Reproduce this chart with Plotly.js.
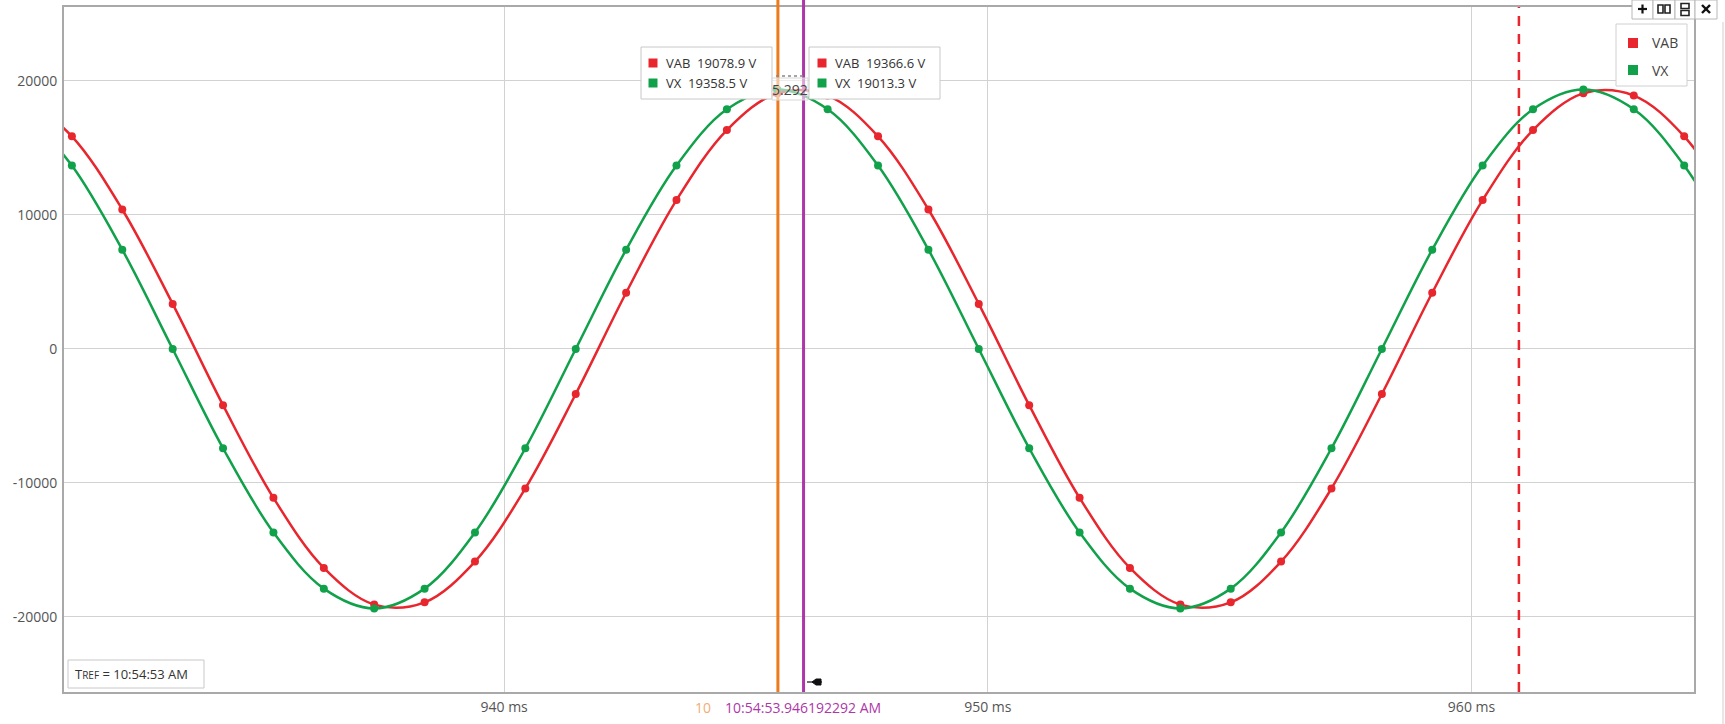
<!DOCTYPE html>
<html>
<head>
<meta charset="utf-8">
<script src="https://cdn.plot.ly/plotly-3.0.1.min.js"></script>
<style>html,body{margin:0;padding:0;background:#fff;}#chart{width:1725px;height:724px;}</style>
</head>
<body>
<div id="chart"></div>
<script>
// ---- data ----
const time_ms = [930.022, 931.063, 932.105, 933.147, 934.188, 935.230, 936.272, 937.313, 938.355, 939.397,
  940.438, 941.480, 942.522, 943.563, 944.605, 945.647, 946.688, 947.730, 948.772, 949.813,
  950.855, 951.897, 952.938, 953.980, 955.022, 956.063, 957.105, 958.147, 959.188, 960.230,
  961.272, 962.313, 963.355, 964.397, 965.438];
const vab = [18911, 15867, 10408, 3364, -4192, -11110, -16337, -19076, -18911, -15867,
  -10408, -3364, 4192, 11110, 16337, 19076, 18911, 15867, 10408, 3364,
  -4192, -11110, -16337, -19076, -18911, -15867, -10408, -3364, 4192, 11110,
  16337, 19076, 18911, 15867, 10408];
const vx = [17886, 13690, 7409, 0, -7409, -13690, -17886, -19360, -17886, -13690,
  -7409, 0, 7409, 13690, 17886, 19360, 17886, 13690, 7409, 0,
  -7409, -13690, -17886, -19360, -17886, -13690, -7409, 0, 7409, 13690,
  17886, 19360, 17886, 13690, 7409];
const seriesNames = ['VAB', 'VX'];
const xTickVals = [940, 950, 960];
const xTickText = ['940 ms', '950 ms', '960 ms'];
const yTickVals = [-20000, -10000, 0, 10000, 20000];
const yTickText = ['-20000', '-10000', '0', '10000', '20000'];
const cursorA_ms = 945.66;
const cursorB_ms = 946.19;
const refLine_ms = 960.98;
const cursorA_vals = ['19078.9', '19358.5'];
const cursorB_vals = ['19366.6', '19013.3'];
const deltaLabel = '5.292';
const cursorA_timeVisible = '10';
const cursorB_time = '10:54:53.946192292 AM';
const trefLabel = '10:54:53 AM';

// ---- layout helpers (pixel -> paper) ----
const L = 64, R = 1694, T = 7, B = 692;
const px = x => (x - L) / (R - L);
const py = y => (B - y) / (B - T);
const RED = '#E8262E', GREEN = '#10A14A', ORANGE = '#EE7A1C', PURPLE = '#AE37A8';
const FONT = '"Open Sans", "Noto Sans", sans-serif';

const traces = [
  {x: time_ms, y: vab, name: seriesNames[0], type: 'scatter', mode: 'lines+markers',
   line: {color: RED, width: 2.5, shape: 'spline', smoothing: 1}, marker: {color: RED, size: 8}},
  {x: time_ms, y: vx, name: seriesNames[1], type: 'scatter', mode: 'lines+markers',
   line: {color: GREEN, width: 2.5, shape: 'spline', smoothing: 1}, marker: {color: GREEN, size: 8}}
];

const shapes = [];
const annotations = [];
function rect(x0, y0, x1, y1, fill, line, lw) {
  shapes.push({type: 'rect', xref: 'paper', yref: 'paper', x0: px(x0), x1: px(x1), y0: py(y1), y1: py(y0),
    fillcolor: fill, line: {color: line || 'rgba(0,0,0,0)', width: lw === undefined ? 1 : lw}, layer: 'above'});
}
function seg(x0, y0, x1, y1, color, w, dash) {
  shapes.push({type: 'line', xref: 'paper', yref: 'paper', x0: px(x0), x1: px(x1), y0: py(y0), y1: py(y1),
    line: {color: color, width: w, dash: dash || 'solid'}, layer: 'above'});
}
function text(x, y, t, opts) {
  annotations.push(Object.assign({xref: 'paper', yref: 'paper', x: px(x), y: py(y), text: t, showarrow: false,
    xanchor: 'left', yanchor: 'middle', font: {family: FONT, size: 13, color: '#333'}}, opts || {}));
}

// cursor lines and reference line (data x)
shapes.push({type: 'line', xref: 'x', yref: 'paper', x0: cursorA_ms, x1: cursorA_ms, y0: 0, y1: py(0), line: {color: ORANGE, width: 3}, layer: 'above'});
shapes.push({type: 'line', xref: 'x', yref: 'paper', x0: cursorB_ms, x1: cursorB_ms, y0: 0, y1: py(0), line: {color: PURPLE, width: 3}, layer: 'above'});
shapes.push({type: 'line', xref: 'x', yref: 'paper', x0: refLine_ms, x1: refLine_ms, y0: 0, y1: 1, line: {color: RED, width: 2.5, dash: '10px,8px'}, layer: 'above'});

// tooltip boxes
rect(641, 47, 772, 99, 'white', '#c8c8c8', 1);
rect(648.5, 58.5, 657.5, 67.5, RED, null, 0);
rect(648.5, 78.5, 657.5, 87.5, GREEN, null, 0);
text(664, 63, seriesNames[0] + '  ' + cursorA_vals[0] + ' V');
text(664, 83, seriesNames[1] + '  ' + cursorA_vals[1] + ' V');
rect(809, 47, 940, 99, 'white', '#c8c8c8', 1);
rect(817.5, 58.5, 826.5, 67.5, RED, null, 0);
rect(817.5, 78.5, 826.5, 87.5, GREEN, null, 0);
text(833, 63, seriesNames[0] + '  ' + cursorB_vals[0] + ' V');
text(833, 83, seriesNames[1] + '  ' + cursorB_vals[1] + ' V');

// delta label
seg(776, 76, 806, 76, '#888', 1.5, 'dot');
rect(772, 78, 808, 100, 'rgba(255,255,255,0.55)', '#d8d8d8', 1);
text(790, 90, deltaLabel, {xanchor: 'center', font: {family: FONT, size: 14, color: '#444'}});

// bottom time labels
text(713, 707, cursorA_timeVisible, {xanchor: 'right', font: {family: FONT, size: 14, color: '#F3AC78'}});
text(723, 707, cursorB_time, {xanchor: 'left', font: {family: FONT, size: 14, color: PURPLE}});

// small marker icon near cursor B
seg(807, 682, 822, 682, '#111', 1.2);
shapes.push({type: 'path', xref: 'paper', yref: 'paper', layer: 'above', fillcolor: '#111', line: {color: '#111', width: 1},
  path: `M${px(812)},${py(682)} L${px(816)},${py(679)} L${px(821)},${py(679)} L${px(821)},${py(685)} L${px(816)},${py(685)} Z`});

// TREF box
rect(68, 660, 204, 688, 'white', '#c8c8c8', 1);
text(73, 674, 'T<span style="font-size:10px">REF</span> = ' + trefLabel, {font: {family: FONT, size: 13, color: '#333'}});

// legend
rect(1616, 24, 1687, 86, 'white', '#d0d0d0', 1);
rect(1628, 38, 1638, 48, RED, null, 0);
rect(1628, 65, 1638, 75, GREEN, null, 0);
text(1650, 43, seriesNames[0], {font: {family: FONT, size: 14, color: '#444'}});
text(1650, 70, seriesNames[1], {font: {family: FONT, size: 14, color: '#444'}});

// toolbar
const btn = [[1632, 1653], [1653, 1675], [1675, 1695], [1695, 1717]];
btn.forEach(b => rect(b[0], 0, b[1], 19, 'white', '#b8b8b8', 1));
seg(1638, 9, 1647, 9, '#111', 2.2);
seg(1642.5, 4.5, 1642.5, 13.5, '#111', 2.2);
rect(1658, 5, 1663, 13, 'white', '#222', 1.6);
rect(1665, 5, 1670, 13, 'white', '#222', 1.6);
rect(1681, 3.5, 1689, 8.5, 'white', '#222', 1.6);
rect(1681, 10.5, 1689, 15.5, 'white', '#222', 1.6);
seg(1702, 5, 1710, 13, '#111', 2.4);
seg(1702, 13, 1710, 5, '#111', 2.4);
// panel right edge
seg(1723, 22, 1723, 724, '#cfcfcf', 1);

const layout = {
  width: 1725, height: 724,
  margin: {l: L, r: 1725 - R, t: T, b: 724 - B, pad: 0},
  paper_bgcolor: 'white', plot_bgcolor: 'white',
  showlegend: false, hovermode: false,
  font: {family: FONT, size: 14, color: '#555'},
  xaxis: {range: [930.9, 964.6], tickvals: xTickVals, ticktext: xTickText, showgrid: true, gridcolor: '#d2d2d2', gridwidth: 1,
    zeroline: false, showline: true, linecolor: '#a9a9a9', linewidth: 2, mirror: true, ticks: '', ticklabelstandoff: 1,
    tickfont: {family: FONT, size: 14, color: '#555'}},
  yaxis: {range: [-25600, 25520], tickvals: yTickVals, ticktext: yTickText, showgrid: true, gridcolor: '#d2d2d2', gridwidth: 1,
    zeroline: false, showline: true, linecolor: '#a9a9a9', linewidth: 2, mirror: true, ticks: '', ticklabelstandoff: 2,
    tickfont: {family: FONT, size: 14, color: '#555'}},
  shapes: shapes,
  annotations: annotations
};
Plotly.newPlot('chart', traces, layout, {displayModeBar: false, staticPlot: true});
</script>
</body>
</html>
